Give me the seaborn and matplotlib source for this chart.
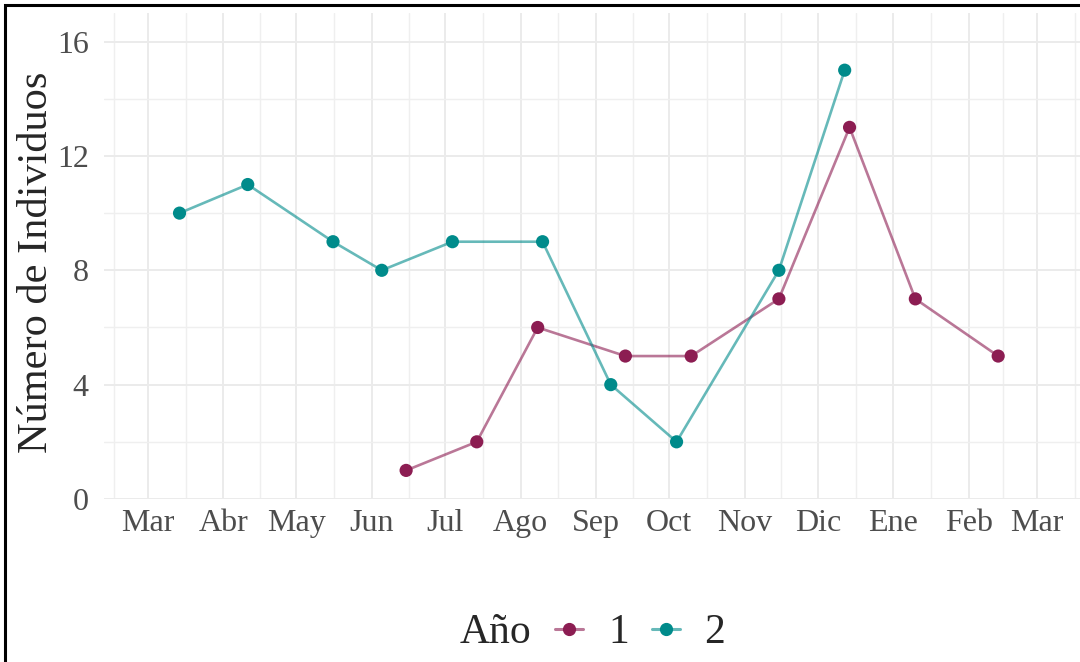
import pandas as pd
import numpy as np
import matplotlib
matplotlib.use("Agg")
import matplotlib.pyplot as plt
from matplotlib.colors import to_rgb
from matplotlib.lines import Line2D
from matplotlib.patches import Rectangle
from matplotlib.ticker import MultipleLocator
import seaborn as sns

# Fechas de muestreo y conteos
fechas_1 = ["2021-06-15", "2021-07-14", "2021-08-08", "2021-09-13", "2021-10-10",
            "2021-11-15", "2021-12-14", "2022-01-10", "2022-02-13"]
individuos_1 = [1, 2, 6, 5, 5, 7, 13, 7, 5]

fechas_2 = ["2021-03-14", "2021-04-11", "2021-05-16", "2021-06-05", "2021-07-04",
            "2021-08-10", "2021-09-07", "2021-10-04", "2021-11-15", "2021-12-12"]
individuos_2 = [10, 11, 9, 8, 9, 9, 4, 2, 8, 15]

anios = ["1", "2"]
colores = ["#8C1D52", "#008B8B"]
meses = ["Mar", "Abr", "May", "Jun", "Jul", "Ago", "Sep", "Oct", "Nov", "Dic",
         "Ene", "Feb", "Mar"]

df = pd.concat([
    pd.DataFrame({"Fecha": pd.to_datetime(fechas_1), "Individuos": individuos_1, "Año": anios[0]}),
    pd.DataFrame({"Fecha": pd.to_datetime(fechas_2), "Individuos": individuos_2, "Año": anios[1]}),
], ignore_index=True)
paleta = dict(zip(anios, colores))

sns.set_style("whitegrid")
plt.rcParams["font.family"] = ["Liberation Serif", "DejaVu Serif"]

fig, ax = plt.subplots(figsize=(10.8, 6.62), dpi=100)
fig.subplots_adjust(left=104 / 1080, right=1.0, top=1 - 13 / 662, bottom=1 - 499 / 662)

sns.lineplot(data=df, x="Fecha", y="Individuos", hue="Año", palette=paleta,
             alpha=0.6, linewidth=1.9, legend=False, ax=ax)
sns.scatterplot(data=df, x="Fecha", y="Individuos", hue="Año", palette=paleta,
                s=90, linewidth=0, legend=False, ax=ax, zorder=3)

# Eje x: meses
inicios = pd.date_range("2021-02-01", "2022-04-01", freq="MS")
mayores = inicios[1:-1]
menores = inicios[:-1] + (inicios[1:] - inicios[:-1]) / 2
ax.set_xticks(mayores)
ax.set_xticklabels(meses)
ax.set_xticks(menores, minor=True)
ax.set_xlim(pd.Timestamp("2021-02-11"), pd.Timestamp("2022-03-18 14:00"))

ax.set_ylim(0, 17)
ax.yaxis.set_major_locator(MultipleLocator(4))
ax.yaxis.set_minor_locator(MultipleLocator(2))

ax.grid(which="major", color="#EBEBEB", linewidth=1.4)
ax.grid(which="minor", color="#EFEFEF", linewidth=1.0)
ax.set_axisbelow(True)
for s in ax.spines.values():
    s.set_visible(False)

ax.tick_params(which="both", length=0)
ax.tick_params(axis="x", labelsize=23, labelcolor="#4D4D4D", pad=7)
ax.tick_params(axis="y", labelsize=23, labelcolor="#4D4D4D", pad=11)

ax.set_xlabel("")
ax.set_ylabel("Número de Individuos", fontsize=30.5, va="center")
ax.yaxis.set_label_coords(-0.069, 0.486)

# Leyenda inferior
def aclarar(c, a=0.6):
    r = np.array(to_rgb(c))
    return tuple(a * r + (1 - a))

manejadores = [Line2D([0], [0], color=aclarar(c), linewidth=2.2, marker="o",
                      markersize=8.5, markerfacecolor=c, markeredgecolor=c)
               for c in colores]
fig.legend(manejadores, anios, loc="center left", bbox_to_anchor=(555 / 1080, 1 - 633 / 662),
           ncol=2, frameon=False, fontsize=30, handlelength=0.67, handletextpad=0.6,
           columnspacing=0.55, borderpad=0, borderaxespad=0)
fig.text(531 / 1080, 1 - 633 / 662, "Año", ha="right", va="center", fontsize=30)

# Marco negro de la imagen
fig.add_artist(Rectangle((5 / 1080, -0.05), 1.2, 1 - 5 / 662 + 0.05, transform=fig.transFigure,
                         fill=False, edgecolor="black", linewidth=2.2))

fig.savefig("out.png", dpi=100)
